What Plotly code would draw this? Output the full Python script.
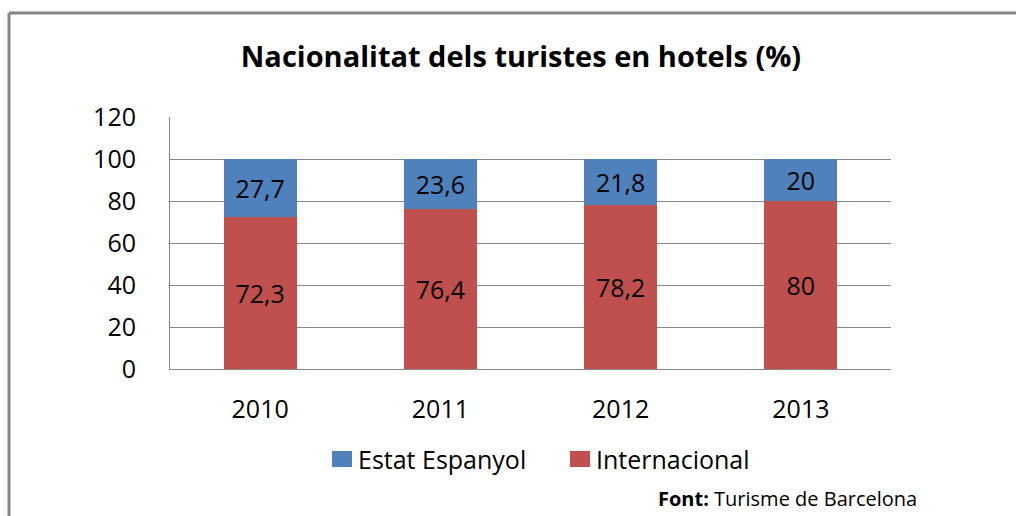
import plotly.graph_objects as go

years = ["2010", "2011", "2012", "2013"]
internacional = [72.3, 76.4, 78.2, 80]
estat_espanyol = [27.7, 23.6, 21.8, 20]
y_ticks = [0, 20, 40, 60, 80, 100, 120]
series_names = ["Estat Espanyol", "Internacional"]

def fmt(v):
    return ("%g" % v).replace(".", ",")

FONT = "'Open Sans', sans-serif"
BLUE = "#4F81BD"
RED = "#C0504D"
GRID = "#878787"
FS = 25

fig = go.Figure()
fig.add_trace(go.Bar(
    x=years, y=internacional, name=series_names[1],
    marker=dict(color=RED, line=dict(width=0)),
    text=[fmt(v) for v in internacional], textposition="inside",
    insidetextanchor="middle", textangle=0,
    textfont=dict(family=FONT, size=FS, color="black"),
    showlegend=False,
))
fig.add_trace(go.Bar(
    x=years, y=estat_espanyol, name=series_names[0],
    marker=dict(color=BLUE, line=dict(width=0)),
    text=[fmt(v) for v in estat_espanyol], textposition="inside",
    insidetextanchor="middle", textangle=0,
    textfont=dict(family=FONT, size=FS, color="black"),
    showlegend=False,
))

W, H = 1016, 516
L, R, T, B = 170, 891, 117, 369

def px_x(px):
    return (px - L) / (R - L)

def px_y(py):
    return (B - py) / (B - T)

# manual legend (keys + labels)
legend_items = [(series_names[0], BLUE, 332), (series_names[1], RED, 570)]
shapes = [
    dict(type="line", xref="paper", yref="paper",
         x0=px_x(9), x1=px_x(1030), y0=px_y(13), y1=px_y(13),
         line=dict(color="#868686", width=3)),
    dict(type="line", xref="paper", yref="paper",
         x0=px_x(9), x1=px_x(9), y0=px_y(13), y1=px_y(530),
         line=dict(color="#868686", width=3)),
]
annotations = [
    dict(text="<b>Font:</b> Turisme de Barcelona", xref="paper", yref="paper",
         x=px_x(919), xanchor="right", y=px_y(498), yanchor="middle",
         showarrow=False, font=dict(family=FONT, size=20, color="black")),
]
for name, color, x0 in legend_items:
    shapes.append(dict(type="rect", xref="paper", yref="paper",
                       x0=px_x(x0), x1=px_x(x0 + 20), y0=px_y(451), y1=px_y(467),
                       fillcolor=color, line=dict(width=0)))
    annotations.append(dict(text=name, xref="paper", yref="paper",
                            x=px_x(x0 + 24), xanchor="left", y=px_y(459),
                            yanchor="middle", showarrow=False,
                            font=dict(family=FONT, size=FS, color="black")))

fig.update_layout(
    width=W, height=H,
    barmode="stack", bargap=0.595,
    paper_bgcolor="white", plot_bgcolor="white",
    margin=dict(l=L, r=W - R, t=T, b=H - B, pad=0),
    font=dict(family=FONT, size=FS, color="black"),
    title=dict(text="<b>Nacionalitat dels turistes en hotels (%)</b>",
               x=521 / W, xanchor="center", xref="container",
               y=1 - 57 / H, yanchor="middle", yref="container",
               font=dict(family=FONT, size=29, color="black")),
    showlegend=False,
    xaxis=dict(showline=True, linecolor=GRID, linewidth=1, ticks="",
               tickfont=dict(family=FONT, size=FS, color="black"),
               ticklabelstandoff=18, showgrid=False, fixedrange=True),
    yaxis=dict(range=[0, 120], tickvals=y_ticks, showline=True, linecolor=GRID,
               linewidth=1, showgrid=True, gridcolor=GRID, gridwidth=1,
               zeroline=False, ticks="", ticklabelstandoff=28,
               tickfont=dict(family=FONT, size=FS, color="black"),
               fixedrange=True),
    shapes=shapes,
    annotations=annotations,
)

fig.write_html("out.html",
               config={"displayModeBar": False},
               post_script="document.body.style.margin='0';document.body.style.overflow='hidden';")
